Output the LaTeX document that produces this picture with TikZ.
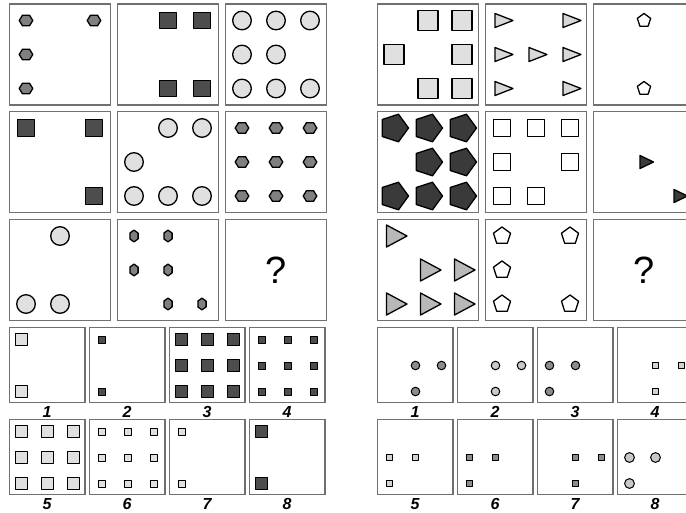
\documentclass[tikz,border=0pt]{standalone}
\usepackage{fontspec}
\setmainfont{Liberation Sans}
\definecolor{boxc}{RGB}{112,112,112}
\definecolor{hexg}{RGB}{128,128,128}
\definecolor{darksq}{RGB}{77,77,77}
\definecolor{lightc}{RGB}{224,224,224}
\definecolor{darkpent}{RGB}{58,58,58}
\definecolor{tril}{RGB}{216,216,216}
\definecolor{trim}{RGB}{184,184,184}
\definecolor{midc}{RGB}{140,140,140}
\definecolor{lgc}{RGB}{200,200,200}
\definecolor{sslight}{RGB}{210,210,210}
\tikzset{
 frame/.style={draw=boxc,line width=1.3pt},
 shp/.style={draw=black,line width=1.3pt,line join=round},
 shpt/.style={draw=black,line width=1pt,line join=round},
 lab/.style={font=\fontsize{16}{18}\selectfont\bfseries\itshape,inner sep=0pt},
 qm/.style={font=\fontsize{38}{40}\selectfont,inner sep=0pt},
 pics/hexh/.style={code={\draw[shp,fill=hexg] (6.8,0)--(3.5,5.3)--(-3.5,5.3)--(-6.8,0)--(-3.5,-5.3)--(3.5,-5.3)--cycle;}},
 pics/hexv/.style={code={\draw[shp,fill=hexg] (0,5.9)--(4.1,2.9)--(4.1,-2.9)--(0,-5.9)--(-4.1,-2.9)--(-4.1,2.9)--cycle;}},
 pics/sqD/.style={code={\draw[shp,fill=darksq] (-8.2,-8.2) rectangle (8.2,8.2);}},
 pics/circL/.style={code={\draw[shp,fill=lightc] (0,0) circle[radius=9.3pt];}},
 pics/sqLm/.style={code={\draw[shp,fill=lightc] (-6,-6) rectangle (6,6);}},
 pics/sqDm/.style={code={\draw[shp,fill=darksq] (-6,-6) rectangle (6,6);}},
 pics/sqDs/.style={code={\draw[shpt,fill=darksq] (-3.5,-3.5) rectangle (3.5,3.5);}},
 pics/sqLs/.style={code={\draw[shpt,fill=lightc] (-3.5,-3.5) rectangle (3.5,3.5);}},
 pics/sqLb/.style={code={\draw[shp,fill=lightc] (-9.9,-9.9) rectangle (9.9,9.9);}},
 pics/triL/.style={code={\draw[shp,fill=tril] (-7,-7)--(11,0)--(-7,7)--cycle;}},
 pics/pentS/.style={code={\draw[shp,fill=white] (90:7pt)--(162:7pt)--(234:7pt)--(306:7pt)--(18:7pt)--cycle;}},
 pics/pentD/.style={code={\draw[shp,fill=darkpent] (0:14.5pt)--(72:14.5pt)--(144:14.5pt)--(216:14.5pt)--(288:14.5pt)--cycle;}},
 pics/sqW/.style={code={\draw[shp,fill=white] (-8.4,-8.4) rectangle (8.4,8.4);}},
 pics/triD/.style={code={\draw[shp,fill=darkpent] (-4,-6.5)--(9.5,0)--(-4,6.5)--cycle;}},
 pics/triM/.style={code={\draw[shp,fill=trim] (-7.5,-11)--(13,0)--(-7.5,11)--cycle;}},
 pics/pentM/.style={code={\draw[shp,fill=white] (90:9pt)--(162:9pt)--(234:9pt)--(306:9pt)--(18:9pt)--cycle;}},
 pics/cM/.style={code={\draw[shpt,fill=midc] (0,0) circle[radius=4.3pt];}},
 pics/cL/.style={code={\draw[shpt,fill=lgc] (0,0) circle[radius=4.3pt];}},
 pics/cLb/.style={code={\draw[shpt,fill=lgc] (0,0) circle[radius=4.9pt];}},
 pics/ssL/.style={code={\draw[shpt,fill=sslight] (-3.1,-3.1) rectangle (3.1,3.1);}},
 pics/ssM/.style={code={\draw[shpt,fill=midc] (-3.1,-3.1) rectangle (3.1,3.1);}},
}
\newcommand\BigCell[4]{\draw[frame] (#1,#2) rectangle ++(101,101);
  \foreach \rr/\cc in {#3}{\pic at ({#1+16.5+34*\cc},{#2+16.5+34*\rr}) {#4};}}
\newcommand\AnsCell[4]{\draw[frame] (#1,#2) rectangle ++(75.5,75);
  \foreach \rr/\cc in {#3}{\pic at ({#1+12+26*\cc},{#2+12+26*\rr}) {#4};}}
\begin{document}
\begin{tikzpicture}[x=1pt,y=-1pt]
\useasboundingbox (0,0) rectangle (686,512);
\clip (0,0) rectangle (686,512);
% ---------------- left puzzle ----------------
\BigCell{9.5}{4}{0/0,0/2,1/0,2/0}{hexh}
\BigCell{117.5}{4}{0/1,0/2,2/1,2/2}{sqD}
\BigCell{225.5}{4}{0/0,0/1,0/2,1/0,1/1,2/0,2/1,2/2}{circL}
\BigCell{9.5}{111.5}{0/0,0/2,2/2}{sqD}
\BigCell{117.5}{111.5}{0/1,0/2,1/0,2/0,2/1,2/2}{circL}
\BigCell{225.5}{111.5}{0/0,0/1,0/2,1/0,1/1,1/2,2/0,2/1,2/2}{hexh}
\BigCell{9.5}{219.5}{0/1,2/0,2/1}{circL}
\BigCell{117.5}{219.5}{0/0,0/1,1/0,1/1,2/1,2/2}{hexv}
\draw[frame] (225.5,219.5) rectangle ++(101,101);
\node[qm] (qL) at (276,270.3) {?};
\AnsCell{9.5}{327.5}{0/0,2/0}{sqLm}
\AnsCell{89.5}{327.5}{0/0,2/0}{sqDs}
\AnsCell{169.5}{327.5}{0/0,0/1,0/2,1/0,1/1,1/2,2/0,2/1,2/2}{sqDm}
\AnsCell{249.5}{327.5}{0/0,0/1,0/2,1/0,1/1,1/2,2/0,2/1,2/2}{sqDs}
\AnsCell{9.5}{419.5}{0/0,0/1,0/2,1/0,1/1,1/2,2/0,2/1,2/2}{sqLm}
\AnsCell{89.5}{419.5}{0/0,0/1,0/2,1/0,1/1,1/2,2/0,2/1,2/2}{sqLs}
\AnsCell{169.5}{419.5}{0/0,2/0}{sqLs}
\AnsCell{249.5}{419.5}{0/0,2/0}{sqDm}
\node[lab] (L1) at (47,411.5) {1};
\node[lab] (L2) at (127,411.5) {2};
\node[lab] (L3) at (207,411.5) {3};
\node[lab] (L4) at (287,411.5) {4};
\node[lab] (L5) at (47,503.8) {5};
\node[lab] (L6) at (127,503.8) {6};
\node[lab] (L7) at (207,503.8) {7};
\node[lab] (L8) at (287,503.8) {8};
% ---------------- right puzzle ----------------
\BigCell{377.5}{4}{0/1,0/2,1/0,1/2,2/1,2/2}{sqLb}
\BigCell{485.5}{4}{0/0,0/2,1/0,1/1,1/2,2/0,2/2}{triL}
\BigCell{593.5}{4}{0/1,2/1}{pentS}
\BigCell{377.5}{111.5}{0/0,0/1,0/2,1/1,1/2,2/0,2/1,2/2}{pentD}
\BigCell{485.5}{111.5}{0/0,0/1,0/2,1/0,1/2,2/0,2/1}{sqW}
\BigCell{593.5}{111.5}{1/1,2/2}{triD}
\BigCell{377.5}{219.5}{0/0,1/1,1/2,2/0,2/1,2/2}{triM}
\BigCell{485.5}{219.5}{0/0,0/2,1/0,2/0,2/2}{pentM}
\draw[frame] (593.5,219.5) rectangle ++(101,101);
\node[qm] (qR) at (644,270.3) {?};
\AnsCell{377.5}{327.5}{1/1,1/2,2/1}{cM}
\AnsCell{457.5}{327.5}{1/1,1/2,2/1}{cL}
\AnsCell{537.5}{327.5}{1/0,1/1,2/0}{cM}
\AnsCell{617.5}{327.5}{1/1,1/2,2/1}{ssL}
\AnsCell{377.5}{419.5}{1/0,1/1,2/0}{ssL}
\AnsCell{457.5}{419.5}{1/0,1/1,2/0}{ssM}
\AnsCell{537.5}{419.5}{1/1,1/2,2/1}{ssM}
\AnsCell{617.5}{419.5}{1/0,1/1,2/0}{cLb}
\node[lab] (R1) at (415,411.5) {1};
\node[lab] (R2) at (495,411.5) {2};
\node[lab] (R3) at (575,411.5) {3};
\node[lab] (R4) at (655,411.5) {4};
\node[lab] (R5) at (415,503.8) {5};
\node[lab] (R6) at (495,503.8) {6};
\node[lab] (R7) at (575,503.8) {7};
\node[lab] (R8) at (655,503.8) {8};
\end{tikzpicture}
\end{document}
